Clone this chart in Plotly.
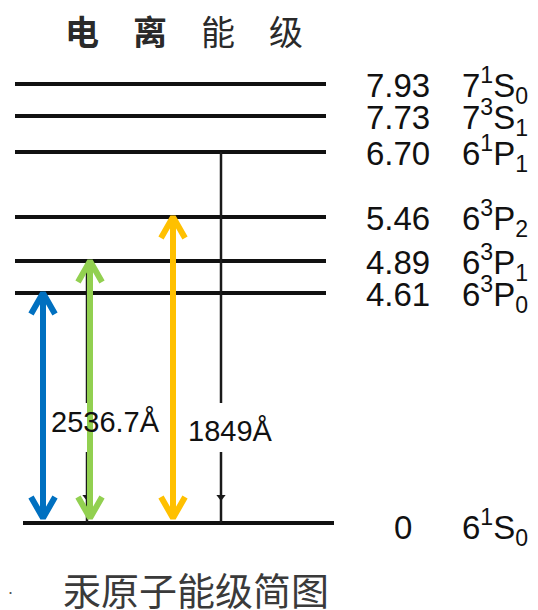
import plotly.graph_objects as go

# ---- data ----
energies_ev = [0, 4.61, 4.89, 5.46, 6.70, 7.73, 7.93]
energy_labels = ["0", "4.61", "4.89", "5.46", "6.70", "7.73", "7.93"]
term_labels = [
    "6<sup>1</sup>S<sub>0</sub>",
    "6<sup>3</sup>P<sub>0</sub>",
    "6<sup>3</sup>P<sub>1</sub>",
    "6<sup>3</sup>P<sub>2</sub>",
    "6<sup>1</sup>P<sub>1</sub>",
    "7<sup>3</sup>S<sub>1</sub>",
    "7<sup>1</sup>S<sub>0</sub>",
]
# schematic (not-to-scale) heights of the levels in the printed diagram
level_pos = [0, 230, 262, 306, 371, 407, 439]

# coloured transitions: upper level energy -> ground
colored_upper = [4.61, 4.89, 5.46]
colored_x = [43, 90, 173]
colored_col = ["#0070C0", "#92D050", "#FFC000"]

# printed black transition lines: upper level, wavelength label
printed_upper = [4.89, 6.70]
printed_x = [87, 221]
printed_wavelength = ["2536.7Å", "1849Å"]

title_text = "<b>电　离</b>　能　级"
caption_text = "汞原子能级简图"

def pos_of(e):
    return level_pos[energies_ev.index(e)]

fig = go.Figure()

# level lines
lx, ly = [], []
for e, p in zip(energies_ev, level_pos):
    if e == 0:
        x0, x1 = 23, 334
    else:
        x0, x1 = 15, 326
    lx += [x0, x1, None]
    ly += [p, p, None]
fig.add_trace(go.Scatter(x=lx, y=ly, mode="lines",
                         line=dict(color="#111111", width=4),
                         hoverinfo="skip", showlegend=False))

# printed black transition lines with a gap for the wavelength label
gap_top, gap_bot = 120, 71
bx, by = [], []
for e, x in zip(printed_upper, printed_x):
    top = pos_of(e)
    bx += [x, x, None, x, x, None]
    by += [top, gap_top, None, gap_bot, 0, None]
fig.add_trace(go.Scatter(x=bx, y=by, mode="lines",
                         line=dict(color="#1a1a1a", width=2.5),
                         hoverinfo="skip", showlegend=False))
fig.add_trace(go.Scatter(x=printed_x, y=[26] * len(printed_x), mode="markers",
                         marker=dict(symbol="triangle-down", size=8, color="#1a1a1a"),
                         hoverinfo="skip", showlegend=False))

# coloured double-headed arrows
hw, hh = 12, 21
for e, x, c in zip(colored_upper, colored_x, colored_col):
    top = pos_of(e)
    bot = 5
    ax = [x, x, None, x - hw, x, x + hw, None, x - hw, x, x + hw]
    ay = [top, bot, None, top - hh, top, top - hh, None, bot + hh, bot, bot + hh]
    fig.add_trace(go.Scatter(x=ax, y=ay, mode="lines",
                             line=dict(color=c, width=6),
                             hoverinfo="skip", showlegend=False))

num_font = dict(family="Liberation Sans, Arial, sans-serif", size=33, color="#111111")

# energy values and term symbols
for e, lab, term, p in zip(energies_ev, energy_labels, term_labels, level_pos):
    if e == 0:
        fig.add_annotation(x=403, y=p - 4, text=lab, showarrow=False,
                           xanchor="center", yanchor="middle", font=num_font)
        fig.add_annotation(x=460, y=p - 4, text=term, showarrow=False,
                           xanchor="left", yanchor="middle", font=num_font)
    else:
        fig.add_annotation(x=364, y=p - 1, text=lab, showarrow=False,
                           xanchor="left", yanchor="middle", font=num_font)
        fig.add_annotation(x=460, y=p - 1, text=term, showarrow=False,
                           xanchor="left", yanchor="middle", font=num_font)

# wavelength labels
wl_font = dict(family="Liberation Sans, Arial, sans-serif", size=29, color="#111111")
fig.add_annotation(x=105, y=101, text=printed_wavelength[0], showarrow=False,
                   xanchor="center", yanchor="middle", font=wl_font)
fig.add_annotation(x=230, y=92, text=printed_wavelength[1], showarrow=False,
                   xanchor="center", yanchor="middle", font=wl_font)

# title and caption
fig.add_annotation(x=184, y=493, text=title_text, showarrow=False,
                   xanchor="center", yanchor="middle",
                   font=dict(family="Noto Sans CJK SC", size=34, color="#2a2a2a"))
fig.add_annotation(x=196, y=-65, text=caption_text, showarrow=False,
                   xanchor="center", yanchor="middle",
                   font=dict(family="Noto Sans CJK SC", size=38, color="#3a3a3a"))
fig.add_annotation(x=10, y=-65, text=".", showarrow=False,
                   xanchor="center", yanchor="middle",
                   font=dict(family="Liberation Sans", size=18, color="#555555"))

# the page body has an 8px margin, so the figure is 8px smaller and the
# axis ranges start 8px in, keeping page positions as in the reference
fig.update_layout(
    width=530, height=602,
    margin=dict(l=0, r=0, t=0, b=0),
    paper_bgcolor="white", plot_bgcolor="white",
    xaxis=dict(range=[8, 538], visible=False, fixedrange=True),
    yaxis=dict(range=[-87, 515], visible=False, fixedrange=True),
    showlegend=False,
)
fig.write_html("out.html")
